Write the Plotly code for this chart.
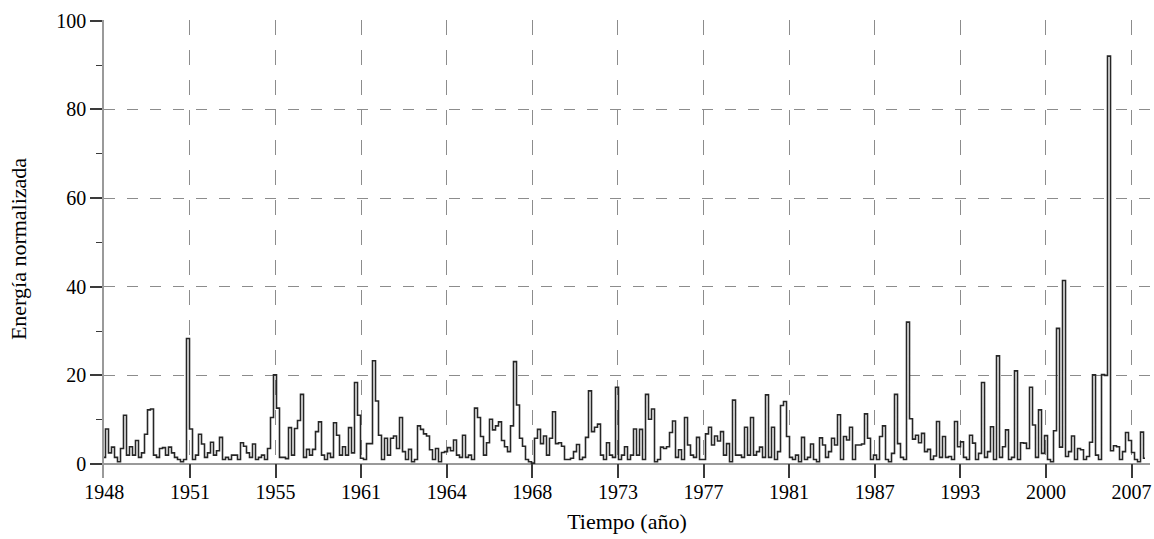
import numpy as np
import plotly.graph_objects as go

# Tick labels (years) on the x axis, evenly spaced along the sample index
tick_labels = ['1948', '1951', '1955', '1961', '1964', '1968', '1973',
               '1977', '1981', '1987', '1993', '2000', '2007']

# Normalised energy, in consecutive chunks
energia_a = [1.5, 7.9, 2.5, 3.8, 1.5, 0.5, 3.5, 11.0, 2, 3.9, 2, 5.3, 1.5, 2.5, 6.7,
             12.2, 12.4, 2, 1.5, 3.5, 3.7, 2, 3.8, 2.5, 1.5, 1, 0.5, 1, 28.3, 7.9,
             1, 2, 6.7, 4.5, 1.5, 2.5, 4.9, 2, 3, 6, 1, 1.5, 1, 2]
energia_b = [2, 1, 4.8, 4, 2.5, 1.5, 4.5, 1, 1.5, 2, 1, 3.5, 10.5, 20.1, 12.6,
             1.5, 1.5, 1.2, 8.2, 2, 8, 9.8, 15.7, 1.5, 3.3, 2, 3.3, 7.3, 9.5, 2,
             1, 2.4, 1.5, 9.3, 6.5, 2, 3.9, 2, 8.2, 2.5, 18.4, 11, 1.3, 1, 4.6]
energia_c = [4.6, 23.3, 14.2, 6.5, 1, 5.8, 2, 5.8, 6.3, 3.5, 10.5, 2.8, 1, 3.3, 0.5,
             1, 8.6, 7.8, 6.8, 6.3, 3.2, 1, 3.5, 0.5, 2.6, 2.8, 3.7, 3, 5.4, 2,
             1.5, 6.5, 1.5, 2, 1, 12.6, 10.5, 6.2, 2, 4.8, 10.1, 7.7, 8.6, 9.5, 5.3]
energia_d = [3.9, 2.8, 8.6, 23.1, 13.3, 5.8, 4, 1, 0.5, 0.2, 5.8, 7.8, 4.6, 6.3, 2,
             5.8, 11.8, 4.6, 4.8, 4, 1, 1, 1.3, 2.8, 4.4, 1, 1.5, 6, 16.5, 7.3,
             8.3, 9, 2, 1, 4.8, 2, 1.5, 17.3, 1, 2, 3.9, 1, 2, 7.9, 2]
energia_e = [7.8, 1, 15.7, 10.1, 12.4, 0.5, 1, 3.8, 3.5, 3.9, 7.1, 9.7, 1.5, 3.2, 1,
             10.5, 4.3, 2, 1.5, 6, 1, 1, 6.8, 8.3, 4.3, 6.3, 5.2, 7.3, 2, 4.6,
             0.5, 14.4, 2, 2, 1.5, 8.3, 2, 10.5, 2, 2.8, 3.8, 1.5, 15.6, 1.5, 8.3]
energia_f = [1, 2.8, 13.2, 14.1, 6.2, 1.5, 1, 2, 0.5, 6, 1, 1.5, 4.5, 1, 0.5,
             5.9, 4.3, 1.5, 2.8, 5.8, 4.3, 11.1, 1, 6.2, 5.4, 8.3, 1, 4.3, 4.3, 4.5,
             11.3, 5.8, 1, 2, 1, 6.2, 8.6, 1, 0.5, 2.4, 15.7, 4.6, 1.5, 1, 32]
energia_g = [10.2, 5.6, 6.5, 4.8, 6.9, 2.8, 3.3, 1, 1.8, 9.6, 1.5, 6.2, 1.5, 1.7, 1,
             9.6, 3.9, 5, 1.5, 1, 6.5, 4.7, 1, 2.4, 18.4, 1.5, 2.8, 8.4, 1, 24.4,
             1.5, 3.9, 7.7, 1, 1.5, 21, 1, 4.8, 4.7, 3.5, 17.3, 8.8, 1.5, 12.2, 2.4]
energia_h = [6.4, 1, 0.5, 7.5, 30.6, 3.8, 41.4, 1.7, 2.8, 6.3, 1, 3.5, 3.2, 1, 1.7,
             4.9, 20.1, 2, 1, 20.2, 20, 92, 3, 4.1, 3.9, 1, 2.8, 7.1, 5.3, 2.6,
             1, 0.5, 7.2, 1.3]

energia = (energia_a + energia_b + energia_c + energia_d +
           energia_e + energia_f + energia_g + energia_h)

SAMPLES_PER_TICK = 85.6 / 3.0
x = (np.arange(len(energia)) - 0.1) / SAMPLES_PER_TICK

FONT = 'Liberation Serif'
AXIS_GRAY = '#9a9a9a'
GRID_GRAY = '#8c8c8c'
TICK_COL = '#3a3a3a'

fig = go.Figure()
fig.add_trace(go.Scatter(
    x=x, y=energia, mode='lines',
    line=dict(color='#262626', width=1.6, shape='hvh'),
    hoverinfo='skip', showlegend=False,
))

fig.update_layout(
    width=1154, height=539,
    margin=dict(l=104, r=4, t=20, b=61),
    paper_bgcolor='white', plot_bgcolor='white',
    font=dict(family=FONT, size=20, color='black'),
    showlegend=False,
)

fig.update_xaxes(
    range=[-0.0035, 12.216],
    tickmode='array', tickvals=list(range(len(tick_labels))), ticktext=tick_labels,
    ticks='inside', ticklen=14, tickwidth=1.5, tickcolor=TICK_COL,
    showgrid=True, gridcolor=GRID_GRAY, gridwidth=1, griddash='15px,15px',
    showline=False, zeroline=False,
    tickfont=dict(family=FONT, size=20, color='black'),
    title=dict(text='Tiempo (año)', font=dict(family=FONT, size=22, color='black'),
               standoff=11),
    automargin=False,
)

fig.update_yaxes(
    range=[-3.16, 100.16],
    tickmode='linear', tick0=0, dtick=20,
    ticks='outside', ticklen=12, tickwidth=1.5, tickcolor=TICK_COL,
    minor=dict(dtick=10, tick0=0, ticks='outside', ticklen=6, tickwidth=1.2,
               tickcolor=TICK_COL, showgrid=False),
    showline=True, linecolor=AXIS_GRAY, linewidth=1.5,
    zeroline=True, zerolinecolor=AXIS_GRAY, zerolinewidth=1.5,
    showgrid=True, gridcolor=GRID_GRAY, gridwidth=1, griddash='11px,12px',
    tickfont=dict(family=FONT, size=20, color='black'),
    title=dict(text='Energía normalizada', font=dict(family=FONT, size=22, color='black'),
               standoff=24),
    automargin=False,
)

fig.write_html('out.html')
